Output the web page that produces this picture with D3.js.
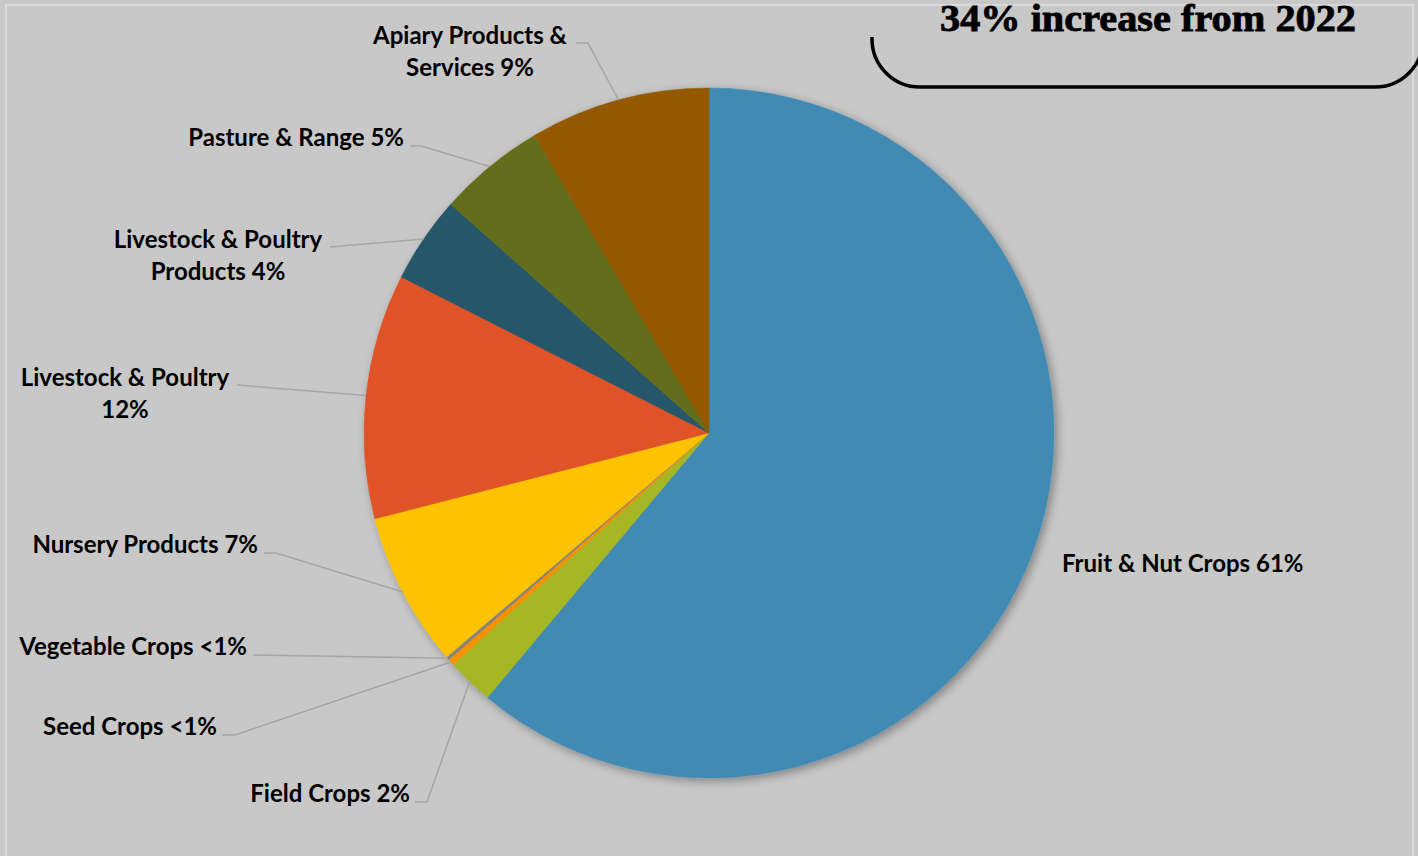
<!DOCTYPE html>
<html>
<head>
<meta charset="utf-8">
<script src="https://cdn.jsdelivr.net/npm/d3@7"></script>
<style>
  html, body { margin: 0; padding: 0; background: #c8c8c8; }
  svg { display: block; }
</style>
</head>
<body>
<svg id="chart" width="1418" height="856"></svg>
<script>
// ---- data ----
const categories = [
  "Fruit & Nut Crops", "Field Crops", "Seed Crops", "Vegetable Crops",
  "Nursery Products", "Livestock & Poultry", "Livestock & Poultry Products",
  "Pasture & Range", "Apiary Products & Services"
];
const shares = [61.1, 2.2, 0.3, 0.15, 7.25, 11.47, 4.06, 5.03, 8.44];
const shareLabels = ["61%", "2%", "<1%", "<1%", "7%", "12%", "4%", "5%", "9%"];
const colors = ["#418AB3", "#A6B727", "#F69200", "#838383", "#FEC306",
                "#DF5327", "#27566B", "#646E1A", "#945800"];
const titleText = "34% increase from 2022";

// ---- label layout (text lines, position, anchor, leader elbow) ----
const labelLayout = [
  { lines: ["Fruit & Nut Crops 61%"], x: 1062, y: 572, anchor: "start", leader: null },
  { lines: ["Field Crops 2%"], x: 410, y: 802, anchor: "end", leader: [[415, 802], [427, 802]] },
  { lines: ["Seed Crops <1%"], x: 217, y: 735, anchor: "end", leader: [[222, 735], [235, 735]] },
  { lines: ["Vegetable Crops <1%"], x: 247, y: 655, anchor: "end", leader: [[253, 655]] },
  { lines: ["Nursery Products 7%"], x: 258, y: 553, anchor: "end", leader: [[264, 553], [276, 553]] },
  { lines: ["Livestock & Poultry", "12%"], x: 125, y: 386, anchor: "middle", leader: [[237, 385]] },
  { lines: ["Livestock & Poultry", "Products 4%"], x: 218, y: 248, anchor: "middle", leader: [[330, 247]] },
  { lines: ["Pasture & Range 5%"], x: 404, y: 146, anchor: "end", leader: [[410, 146], [421, 146]] },
  { lines: ["Apiary Products &", "Services 9%"], x: 470, y: 44, anchor: "middle", leader: [[576, 43], [588, 43]] }
];

const svg = d3.select("#chart");
const W = 1418, H = 856;
const cx = 709, cy = 433, R = 345;

// background & frame
svg.append("rect").attr("width", W).attr("height", H).attr("fill", "#c8c8c8");
svg.append("rect").attr("x", 6).attr("y", 5).attr("width", 1407).attr("height", 880)
  .attr("fill", "none").attr("stroke", "#dadada").attr("stroke-width", 2);

// shadow filter
const defs = svg.append("defs");
const f = defs.append("filter").attr("id", "shadow")
  .attr("x", "-10%").attr("y", "-10%").attr("width", "120%").attr("height", "120%");
f.append("feDropShadow").attr("dx", 3).attr("dy", 3).attr("stdDeviation", 5)
  .attr("flood-color", "#000").attr("flood-opacity", 0.35);

const data = categories.map((c, i) => ({ name: c, value: shares[i], label: shareLabels[i], color: colors[i] }));

const pie = d3.pie().value(d => d.value).sort(null).startAngle(0).endAngle(2 * Math.PI);
const arcs = pie(data);
const arc = d3.arc().innerRadius(0).outerRadius(R);
const edgeArc = d3.arc().innerRadius(R).outerRadius(R);

const g = svg.append("g").attr("transform", `translate(${cx},${cy})`);
const slices = g.append("g").attr("filter", "url(#shadow)");
slices.selectAll("path").data(arcs).enter().append("path")
  .attr("d", arc).attr("fill", d => d.data.color)
  .attr("stroke", d => d.data.color).attr("stroke-width", 0.5);

// leader lines
const leaders = svg.append("g");
arcs.forEach((a, i) => {
  const lay = labelLayout[i];
  if (!lay.leader) return;
  const c = edgeArc.centroid(a);
  const pts = lay.leader.concat([[cx + c[0], cy + c[1]]]);
  leaders.append("path")
    .attr("d", d3.line()(pts))
    .attr("fill", "none").attr("stroke", "#a5a5a5").attr("stroke-width", 1.5);
});

// labels
const labels = svg.append("g")
  .attr("font-family", "Lato, 'Open Sans', sans-serif")
  .attr("font-weight", "bold").attr("font-size", 24).attr("fill", "#000");
labelLayout.forEach(lay => {
  const t = labels.append("text").attr("text-anchor", lay.anchor);
  lay.lines.forEach((ln, j) => {
    t.append("tspan").attr("x", lay.x).attr("y", lay.y + j * 32).text(ln);
  });
});

// callout box (partially visible)
const box = d3.path();
box.moveTo(872, 37);
box.arc(920, 39, 48, Math.PI, Math.PI / 2, true);
box.lineTo(1375, 87);
box.arc(1375, 39, 48, Math.PI / 2, 0, true);
svg.append("path").attr("d", box.toString())
  .attr("fill", "none").attr("stroke", "#000").attr("stroke-width", 3.5);

svg.append("text")
  .attr("x", 1148).attr("y", 31).attr("text-anchor", "middle")
  .attr("font-family", "'Liberation Serif', 'DejaVu Serif', serif")
  .attr("font-weight", "bold").attr("font-size", 38)
  .attr("stroke", "#000").attr("stroke-width", 0.8)
  .attr("textLength", 416).attr("lengthAdjust", "spacingAndGlyphs")
  .text(titleText);
</script>
</body>
</html>
